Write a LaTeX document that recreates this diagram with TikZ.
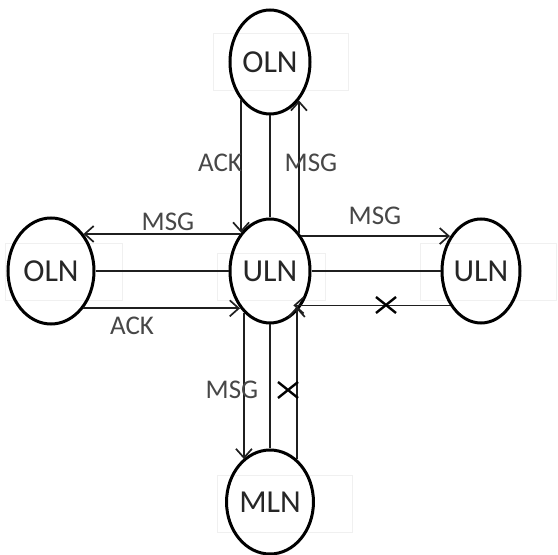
\documentclass[tikz,border=0pt]{standalone}
\usepackage{fontspec}
\setmainfont{Carlito}
\usetikzlibrary{shapes.geometric,arrows.meta}
\begin{document}
\begin{tikzpicture}[x=1pt,y=1pt,
  state/.style={ellipse, draw=black, line width=3pt, inner sep=0pt, minimum width=80pt, minimum height=104pt, font=\fontsize{32}{33}\selectfont, text=black!85},
  conn/.style={line width=1.7pt, draw=black!88},
  arr/.style={conn, -{Straight Barb[length=9pt,width=16pt,line width=1.7pt]}},
  lbl/.style={font=\fontsize{27}{28}\selectfont, text=black!72, inner sep=0pt},
  cross/.style={line width=2.4pt, draw=black},
  faint/.style={draw=black!6, line width=0.6pt}
]
\useasboundingbox (0,0) rectangle (558,555);
% faint text-box frames
\draw[faint] (213,465) rectangle (348,522);
\draw[faint] (5,255) rectangle (122,312);
\draw[faint] (217,255) rectangle (325,302);
\draw[faint] (420,255) rectangle (556,312);
\draw[faint] (217,23) rectangle (352,80);
% states
\node[state] (olnT) at (270,493) {OLN};
\node[state] (uln) at (270,284) {ULN};
\node[state, minimum width=86pt, minimum height=106pt] (olnL) at (51,284) {OLN};
\node[state, minimum width=78pt] (ulnR) at (481,284) {ULN};
\node[state] (mln) at (270,53) {MLN};
% top
\draw[arr] (olnT.233) -- (olnT.233 |- uln.127);
\draw[conn] (olnT.south) -- (uln.north);
\draw[arr] (uln.53) -- (uln.53 |- olnT.307);
% left
\draw[arr] (uln.129) -- (uln.129 -| olnL.49);
\draw[conn] (olnL.east) -- (uln.west);
\draw[arr] (olnL.311) -- (olnL.311 -| uln.231);
% right
\draw[arr] (uln.48) -- (uln.48 -| ulnR.132);
\draw[conn] (uln.east) -- (ulnR.west);
\draw[arr, shorten >=-9pt] (ulnR.228) -- (ulnR.228 -| uln.314);
% bottom
\draw[arr] (uln.238) -- (uln.238 |- mln.122);
\draw[conn] (uln.south) -- (mln.north);
\draw[arr, shorten >=-6pt] (mln.58) -- (mln.58 |- uln.302);
% crosses
\coordinate (xR) at (386,250);
\coordinate (xB) at (288,165);
\draw[cross] ([shift={(-10,-8)}]xR) -- ([shift={(10,8)}]xR) ([shift={(-10,8)}]xR) -- ([shift={(10,-8)}]xR);
\draw[cross] ([shift={(-10,-8)}]xB) -- ([shift={(10,8)}]xB) ([shift={(-10,8)}]xB) -- ([shift={(10,-8)}]xB);
% labels
\node[lbl] (ackT) at (220,392) {ACK};
\node[lbl] (msgT) at (311,392) {MSG};
\node[lbl] (msgL) at (168,333) {MSG};
\node[lbl] (ackL) at (132,229) {ACK};
\node[lbl] (msgR) at (375,339) {MSG};
\node[lbl] (msgB) at (232,165) {MSG};
\end{tikzpicture}
\end{document}
